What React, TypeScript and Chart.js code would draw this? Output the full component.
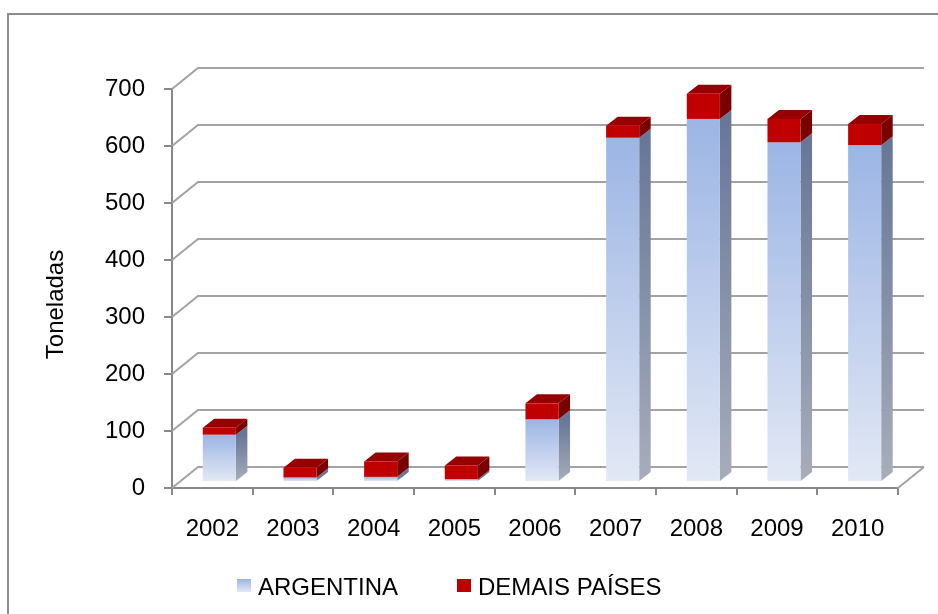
import React, { useEffect, useRef } from "react";
import { Chart, registerables } from "chart.js";

Chart.register(...registerables);

// Annual volume, in tonnes
const YEARS = ["2002", "2003", "2004", "2005", "2006", "2007", "2008", "2009", "2010"];
const ARGENTINA = [83, 8, 9, 5, 110, 604, 637, 596, 591];
const DEMAIS_PAISES = [12, 17, 27, 24, 28, 21, 44, 41, 37];
const Y_TICKS = [0, 100, 200, 300, 400, 500, 600, 700];

const SERIES_NAMES = ["ARGENTINA", "DEMAIS PAÍSES"];
const AXIS_TITLE = "Toneladas";

const FONT = "'Liberation Sans', Arial, sans-serif";

// Oblique projection of the box: back wall offset, bar plane offset, bar depth
const WALL = { dx: 26, dy: -21 };
const BAR_SHIFT = { dx: 7, dy: -6 };
const BAR_DEPTH = { dx: 11.5, dy: -9 };

type Faces = { front: [string, string]; side: [string, string]; top: string };

const FACES: Faces[] = [
  { front: ["#9cb5e4", "#e2e8f5"], side: ["#687797", "#a7adba"], top: "#b7c8ea" },
  { front: ["#c00000", "#c00000"], side: ["#7a0000", "#7a0000"], top: "#960000" },
];

const chartDecor = {
  id: "chartDecor",
  beforeDraw(chart: any) {
    const { ctx, width, height } = chart;
    ctx.save();
    ctx.fillStyle = "#ffffff";
    ctx.fillRect(0, 0, width, height);
    ctx.strokeStyle = "#8c8c8c";
    ctx.lineWidth = 2;
    ctx.strokeRect(8, 14, width + 20, height + 20);
    ctx.restore();
  },
  beforeDatasetsDraw(chart: any) {
    const { ctx, chartArea, scales } = chart;
    const { left, right, bottom } = chartArea;
    const y = scales.y;
    ctx.save();
    ctx.strokeStyle = "#a3a3a3";
    ctx.lineWidth = 2;
    for (const v of Y_TICKS) {
      const py = y.getPixelForValue(v);
      ctx.beginPath();
      ctx.moveTo(left, py);
      ctx.lineTo(left + WALL.dx, py + WALL.dy);
      ctx.lineTo(right + WALL.dx, py + WALL.dy);
      ctx.stroke();
    }
    ctx.beginPath();
    ctx.moveTo(right, bottom);
    ctx.lineTo(right + WALL.dx, bottom + WALL.dy);
    ctx.stroke();
    ctx.restore();
  },
  afterDatasetsDraw(chart: any) {
    const { ctx } = chart;
    const metas = chart.data.datasets.map((_: any, i: number) => chart.getDatasetMeta(i));
    const count = chart.data.labels.length;
    ctx.save();
    for (let i = 0; i < count; i++) {
      for (let d = 0; d < metas.length; d++) {
        const el = metas[d].data[i];
        if (!el) continue;
        const { x, y, base, width } = el.getProps(["x", "y", "base", "width"], true);
        const L = x - width / 2 + BAR_SHIFT.dx;
        const R = x + width / 2 + BAR_SHIFT.dx;
        const T = y + BAR_SHIFT.dy;
        const B = base + BAR_SHIFT.dy;
        if (B - T < 0.1) continue;
        const f = FACES[d];

        // side face
        const sg = ctx.createLinearGradient(0, T, 0, B);
        sg.addColorStop(0, f.side[0]);
        sg.addColorStop(1, f.side[1]);
        ctx.fillStyle = sg;
        ctx.beginPath();
        ctx.moveTo(R, T);
        ctx.lineTo(R + BAR_DEPTH.dx, T + BAR_DEPTH.dy);
        ctx.lineTo(R + BAR_DEPTH.dx, B + BAR_DEPTH.dy);
        ctx.lineTo(R, B);
        ctx.closePath();
        ctx.fill();

        // front face
        const fg = ctx.createLinearGradient(0, T, 0, B);
        fg.addColorStop(0, f.front[0]);
        fg.addColorStop(1, f.front[1]);
        ctx.fillStyle = fg;
        ctx.fillRect(L, T, R - L, B - T);

        // top face on the uppermost segment
        if (d === metas.length - 1) {
          ctx.fillStyle = f.top;
          ctx.beginPath();
          ctx.moveTo(L, T);
          ctx.lineTo(R, T);
          ctx.lineTo(R + BAR_DEPTH.dx, T + BAR_DEPTH.dy);
          ctx.lineTo(L + BAR_DEPTH.dx, T + BAR_DEPTH.dy);
          ctx.closePath();
          ctx.fill();
        }
      }
    }
    ctx.restore();
  },
  afterDraw(chart: any) {
    const { ctx } = chart;
    ctx.save();
    ctx.fillStyle = "#000000";
    ctx.font = `24px ${FONT}`;

    // vertical axis title
    ctx.save();
    ctx.translate(63, 304.5);
    ctx.rotate(-Math.PI / 2);
    ctx.textAlign = "center";
    ctx.textBaseline = "alphabetic";
    ctx.fillText(AXIS_TITLE, 0, 0);
    ctx.restore();

    // legend
    const items = [
      { box: 237, text: 258 },
      { box: 457, text: 478 },
    ];
    items.forEach((it, k) => {
      const f = FACES[k];
      const g = ctx.createLinearGradient(0, 579, 0, 592);
      g.addColorStop(0, f.front[0]);
      g.addColorStop(1, f.front[1]);
      ctx.fillStyle = g;
      ctx.fillRect(it.box, 579, 14, 13);
      ctx.fillStyle = "#000000";
      ctx.textAlign = "left";
      ctx.textBaseline = "alphabetic";
      ctx.fillText(SERIES_NAMES[k], it.text, 595);
    });
    ctx.restore();
  },
};

export default function App() {
  const canvasRef = useRef<HTMLCanvasElement | null>(null);

  useEffect(() => {
    document.body.style.margin = "0";
    document.body.style.overflow = "hidden";
    const canvas = canvasRef.current;
    if (!canvas) return;

    const chart = new Chart(canvas, {
      type: "bar",
      data: {
        labels: YEARS,
        datasets: [
          {
            label: SERIES_NAMES[0],
            data: ARGENTINA,
            backgroundColor: "rgba(0,0,0,0)",
            borderWidth: 0,
          },
          {
            label: SERIES_NAMES[1],
            data: DEMAIS_PAISES,
            backgroundColor: "rgba(0,0,0,0)",
            borderWidth: 0,
          },
        ],
      },
      options: {
        responsive: false,
        animation: false,
        events: [],
        layout: { padding: { top: 89, right: 40, left: 0, bottom: 0 } },
        datasets: {
          bar: { categoryPercentage: 1, barPercentage: 0.41 },
        },
        plugins: {
          legend: { display: false },
          tooltip: { enabled: false },
          title: { display: false },
        },
        scales: {
          x: {
            stacked: true,
            offset: true,
            grid: {
              offset: true,
              drawOnChartArea: false,
              drawTicks: true,
              tickLength: 7,
              color: "#888888",
              lineWidth: 2,
            },
            border: { display: true, color: "#888888", width: 2 },
            ticks: {
              color: "#000000",
              font: { family: FONT, size: 24 },
              padding: 20,
              maxRotation: 0,
            },
            afterFit: (scale: any) => {
              scale.height = 126;
            },
          },
          y: {
            stacked: true,
            min: 0,
            max: 700,
            grid: {
              drawOnChartArea: false,
              drawTicks: true,
              tickLength: 8,
              color: "#888888",
              lineWidth: 2,
            },
            border: { display: true, color: "#888888", width: 2 },
            ticks: {
              stepSize: 100,
              color: "#000000",
              font: { family: FONT, size: 24 },
              padding: 19,
            },
            afterFit: (scale: any) => {
              scale.width = 172;
            },
          },
        },
      },
      plugins: [chartDecor],
    });

    return () => chart.destroy();
  }, []);

  return (
    <div style={{ width: 938, height: 614 }}>
      <canvas ref={canvasRef} width={938} height={614} style={{ display: "block" }} />
    </div>
  );
}
